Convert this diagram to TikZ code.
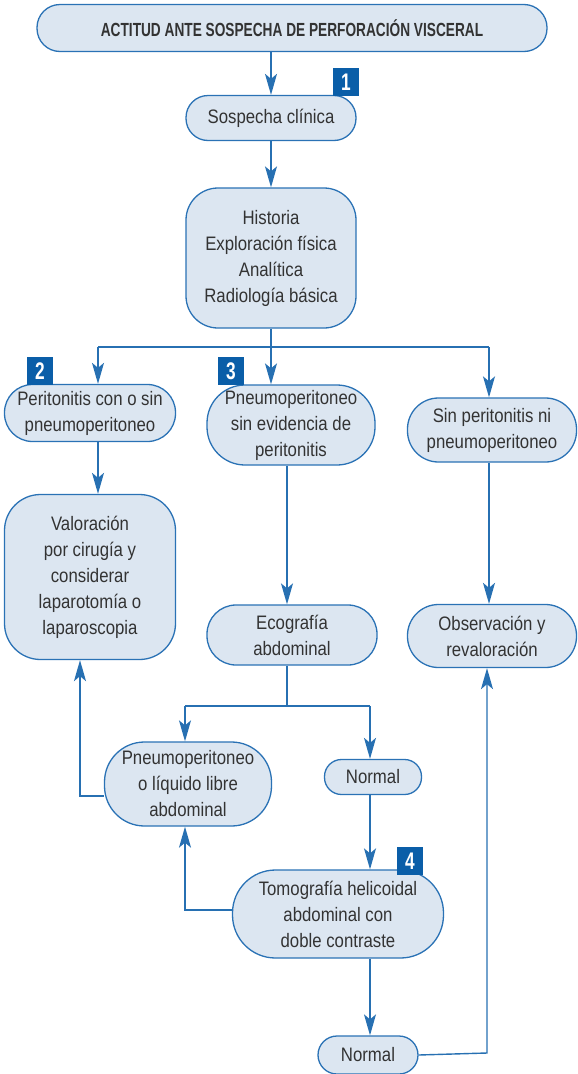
\documentclass[tikz,border=0pt]{standalone}
\usepackage{fontspec}
\usetikzlibrary{arrows.meta,calc}
\newfontfamily\bodyf[FakeStretch=0.86]{Liberation Sans}
\newfontfamily\titlef[FakeStretch=0.72]{Liberation Sans}
\definecolor{bdr}{HTML}{2A72B5}
\definecolor{boxfill}{HTML}{DCE6F1}
\definecolor{lnc}{HTML}{2770B2}
\definecolor{badgec}{HTML}{0A5EA8}
\definecolor{txt}{HTML}{333333}
\tikzset{
  flowbox/.style={draw=bdr, fill=boxfill, line width=1.3pt, align=center, text=txt,
    font=\bodyf\fontsize{19.5}{26}\selectfont, inner sep=0pt},
  badge/.style={fill=badgec, text=white, minimum width=26pt, minimum height=28pt,
    inner sep=0pt, font=\titlef\bfseries\fontsize{24}{24}\selectfont},
  conn/.style={draw=lnc, line width=1.4pt},
  arr/.style={conn, -{Stealth[length=21pt,width=12pt,inset=5pt]}}
}
\begin{document}
\begin{tikzpicture}[x=1pt,y=-1pt]
\useasboundingbox (0,0) rectangle (578,1074);
% nodes
\node[flowbox, minimum width=510pt, minimum height=47pt, rounded corners=23pt,
  font=\titlef\bfseries\fontsize{19}{22}\selectfont] (title) at (292,28)
  {ACTITUD ANTE SOSPECHA DE PERFORACIÓN VISCERAL};
\node[flowbox, minimum width=170pt, minimum height=45pt, rounded corners=22pt] (s1) at (271,118) {Sospecha clínica};
\node[flowbox, minimum width=170pt, minimum height=140pt, rounded corners=32pt] (hist) at (271,258)
  {Historia\\Exploración física\\Analítica\\Radiología básica};
\node[flowbox, minimum width=171pt, minimum height=57pt, rounded corners=28pt] (n2) at (90,413)
  {Peritonitis con o sin\\pneumoperitoneo};
\node[flowbox, minimum width=168pt, minimum height=80pt, rounded corners=38pt] (n3) at (291,425)
  {Pneumoperitoneo\\sin evidencia de\\peritonitis};
\node[flowbox, minimum width=169pt, minimum height=64pt, rounded corners=31pt] (nsin) at (492,430)
  {Sin peritonitis ni\\pneumoperitoneo};
\node[flowbox, minimum width=171pt, minimum height=165pt, rounded corners=36pt] (val) at (90,577)
  {Valoración\\por cirugía y\\considerar\\laparotomía o\\laparoscopia};
\node[flowbox, minimum width=170pt, minimum height=60pt, rounded corners=29pt] (eco) at (292,635)
  {Ecografía\\abdominal};
\node[flowbox, minimum width=169pt, minimum height=63pt, rounded corners=31pt] (obs) at (492,636)
  {Observación y\\revaloración};
\node[flowbox, minimum width=167pt, minimum height=84pt, rounded corners=40pt] (plib) at (188,784)
  {Pneumoperitoneo\\o líquido libre\\abdominal};
\node[flowbox, minimum width=97pt, minimum height=35pt, rounded corners=17pt] (nor1) at (373,777) {Normal};
\node[flowbox, minimum width=211pt, minimum height=88pt, rounded corners=43pt] (tomo) at (338,914)
  {Tomografía helicoidal\\abdominal con\\doble contraste};
\node[flowbox, minimum width=100pt, minimum height=38pt, rounded corners=19pt] (nor2) at (368,1055) {Normal};
% badges
\node[badge] (b1) at (346,82) {1};
\node[badge] (b2) at (40,371) {2};
\node[badge] (b3) at (231,371) {3};
\node[badge] (b4) at (410,861) {4};
% branch coordinates
\coordinate (j1) at (271,347);
\coordinate (j1l) at (98,347);
\coordinate (j1r) at (489,347);
\coordinate (j2) at (287,706);
\coordinate (j2l) at (185,706);
\coordinate (j2r) at (370,706);
\coordinate (k1) at (185,910);
\coordinate (k2) at (80,796);
\coordinate (k3) at (487,1053);
% connectors
\draw[arr] (title.south -| s1.north) -- (s1.north);
\draw[arr] (s1) -- (hist);
\draw[conn] (hist.south) -- (j1);
\draw[conn] (j1l) -- (j1r);
\draw[arr] (j1l) -- (j1l |- n2.north);
\draw[arr] (j1) -- (j1 |- n3.north);
\draw[arr] (j1r) -- (j1r |- nsin.north);
\draw[arr] (n2.south -| j1l) -- (val.north -| j1l);
\draw[arr] (n3.south -| j2) -- (eco.north -| j2);
\draw[conn] (eco.south -| j2) -- (j2);
\draw[conn] (j2l) -- (j2r);
\draw[arr] (j2l) -- (j2l |- plib.north);
\draw[arr] (j2r) -- (j2r |- nor1.north);
\draw[arr] (nor1.south -| j2r) -- (tomo.north -| j2r);
\draw[arr] (tomo.west |- k1) -- (k1) -- (k1 |- plib.south);
\draw[arr] (plib.west |- k2) -- (k2) -- (k2 |- val.south);
\draw[arr] (tomo.south -| j2r) -- (nor2.north -| j2r);
\draw[arr] (nor2.east) -- (k3) -- (k3 |- obs.south);
\draw[arr] (nsin.south -| j1r) -- (obs.north -| j1r);
\end{tikzpicture}
\end{document}
